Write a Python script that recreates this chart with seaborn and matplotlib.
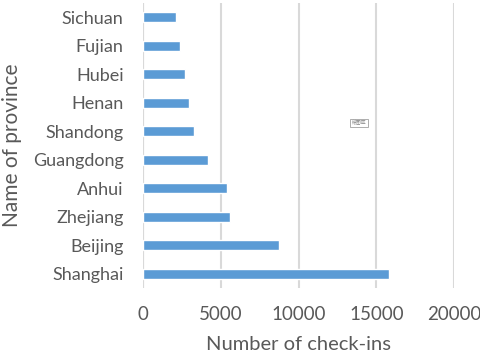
import matplotlib
matplotlib.use("Agg")
import matplotlib.pyplot as plt
import seaborn as sns
import pandas as pd

provinces = ["Sichuan", "Fujian", "Hubei", "Henan", "Shandong", "Guangdong",
             "Anhui", "Zhejiang", "Beijing", "Shanghai"]
checkins = [2100, 2380, 2680, 2980, 3280, 4200, 5400, 5620, 8750, 15790]
x_ticks = [0, 5000, 10000, 15000, 20000]

sns.set_theme(style="white")
plt.rcParams['font.family'] = ['Lato', 'DejaVu Sans']

df = pd.DataFrame({"province": provinces, "checkins": checkins})

fig = plt.figure(figsize=(4.8, 3.57), dpi=100)
ax = fig.add_axes([0.298, 0.193, 0.648, 0.799])
sns.barplot(data=df, x="checkins", y="province", order=provinces,
            color="#5B9BD5", saturation=1, width=0.35, ax=ax)
ax.set_xlim(0, 20000)
ax.set_ylim(len(provinces) - 0.5, -0.5)
ax.set_xticks(x_ticks)
ax.set_xticklabels([str(t) for t in x_ticks])
ax.xaxis.grid(True, color="#D9D9D9", linewidth=1.5)
ax.set_axisbelow(True)
for s in ax.spines.values():
    s.set_visible(False)
ax.axvline(0, color="#D9D9D9", linewidth=1.5, zorder=0)
ax.tick_params(axis="both", length=0, colors="#595959")
ax.tick_params(axis="y", pad=14, labelsize=13)
ax.tick_params(axis="x", pad=13, labelsize=13.5)
ax.set_xlabel("Number of check-ins", fontsize=14.5, color="#595959")
ax.set_ylabel("Name of province", fontsize=15, color="#595959")
ax.xaxis.set_label_coords(0.5, -0.168)
ax.yaxis.set_label_coords(-0.39, 0.5)

fig.text(0.748, 0.655, "绘图区", fontsize=3.5, color="#808080",
         family=['Noto Sans CJK SC', 'DejaVu Sans'], ha="center", va="center",
         bbox=dict(boxstyle="square,pad=0.3", fc="white", ec="#A0A0A0", lw=0.6))

fig.savefig("out.png", dpi=100)
